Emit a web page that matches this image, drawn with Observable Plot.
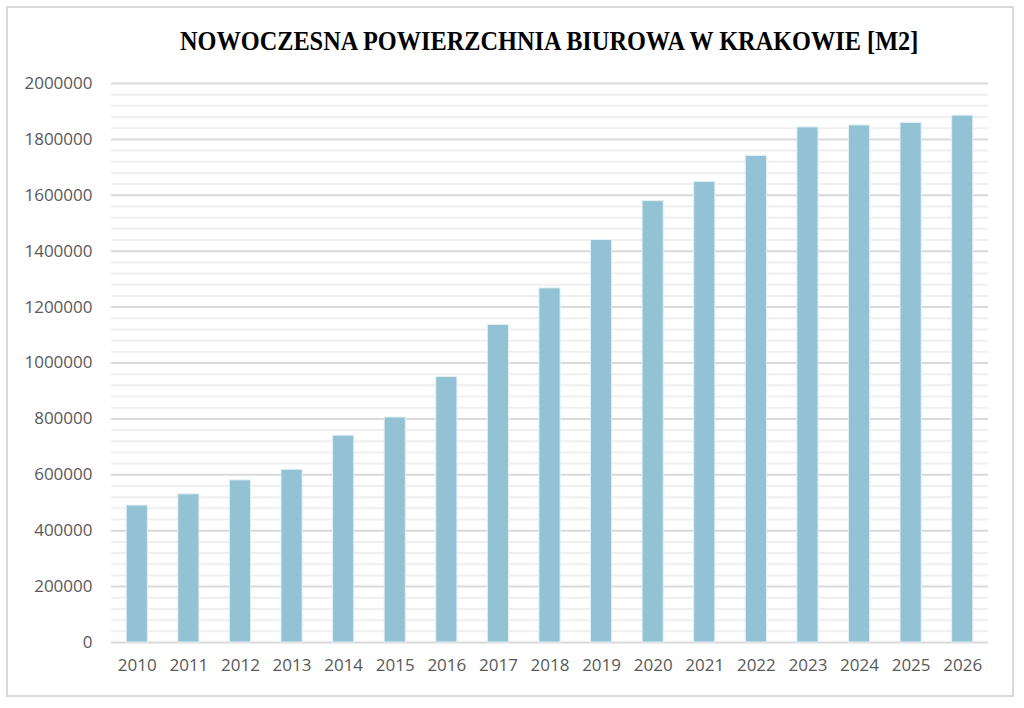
<!DOCTYPE html>
<html>
<head>
<meta charset="utf-8">
<script src="https://cdn.jsdelivr.net/npm/d3@7"></script>
<script src="https://cdn.jsdelivr.net/npm/@observablehq/plot@0.6"></script>
<style>
  html, body { margin: 0; padding: 0; background: #fff; }
  #wrap { position: relative; width: 1024px; height: 708px; }
  #frame { position: absolute; left: 6px; top: 6px; width: 1004px; height: 687px; border: 2px solid #d9d9d9; box-sizing: content-box; }
  #chart { position: absolute; left: 0; top: 0; }
  #title { position: absolute; left: 140px; top: 28px; width: 800px; text-align: center; white-space: nowrap;
           font-family: 'Liberation Serif', serif; font-weight: bold; font-size: 27px; line-height: 27px; color: #000;
           transform: scaleX(0.9); transform-origin: 50% 50%; }
</style>
</head>
<body>
<div id="wrap"><div id="frame"></div><div id="chart"></div><div id="title"></div></div>
<script>
const title = "NOWOCZESNA POWIERZCHNIA BIUROWA W KRAKOWIE [M2]";
const years = ["2010","2011","2012","2013","2014","2015","2016","2017","2018","2019","2020","2021","2022","2023","2024","2025","2026"];
const values = [490000, 530000, 580000, 618000, 740000, 805000, 950000, 1136000, 1267000, 1440000, 1579000, 1648000, 1741000, 1843000, 1850000, 1859000, 1885000];
const yTicks = [0, 200000, 400000, 600000, 800000, 1000000, 1200000, 1400000, 1600000, 1800000, 2000000];
const minorTicks = d3.range(0, 2000001, 40000).filter(v => v % 200000 !== 0);

const data = years.map((year, i) => ({year, value: values[i]}));

document.getElementById("title").textContent = title;

const chart = Plot.plot({
  width: 1024,
  height: 708,
  marginLeft: 111,
  marginRight: 36,
  marginTop: 83,
  marginBottom: 66,
  style: {fontFamily: "'Open Sans', sans-serif", fontSize: "17px", color: "#595959", background: "transparent", overflow: "visible"},
  x: {domain: years, paddingInner: 0.59, paddingOuter: 0.295, round: false, label: null, tickSize: 0, tickPadding: 16},
  y: {domain: [0, 2000000], ticks: yTicks, tickFormat: d => String(d), tickSize: 0, tickPadding: 19, label: null},
  marks: [
    Plot.ruleY(minorTicks, {stroke: "#efefef", strokeWidth: 2}),
    Plot.ruleY(yTicks, {stroke: "#d9d9d9", strokeWidth: 2}),
    Plot.barY(data, {x: "year", y: "value", fill: "#92c2d3", stroke: "#e2f1f6", strokeWidth: 1})
  ]
});
document.getElementById("chart").appendChild(chart);
</script>
</body>
</html>
